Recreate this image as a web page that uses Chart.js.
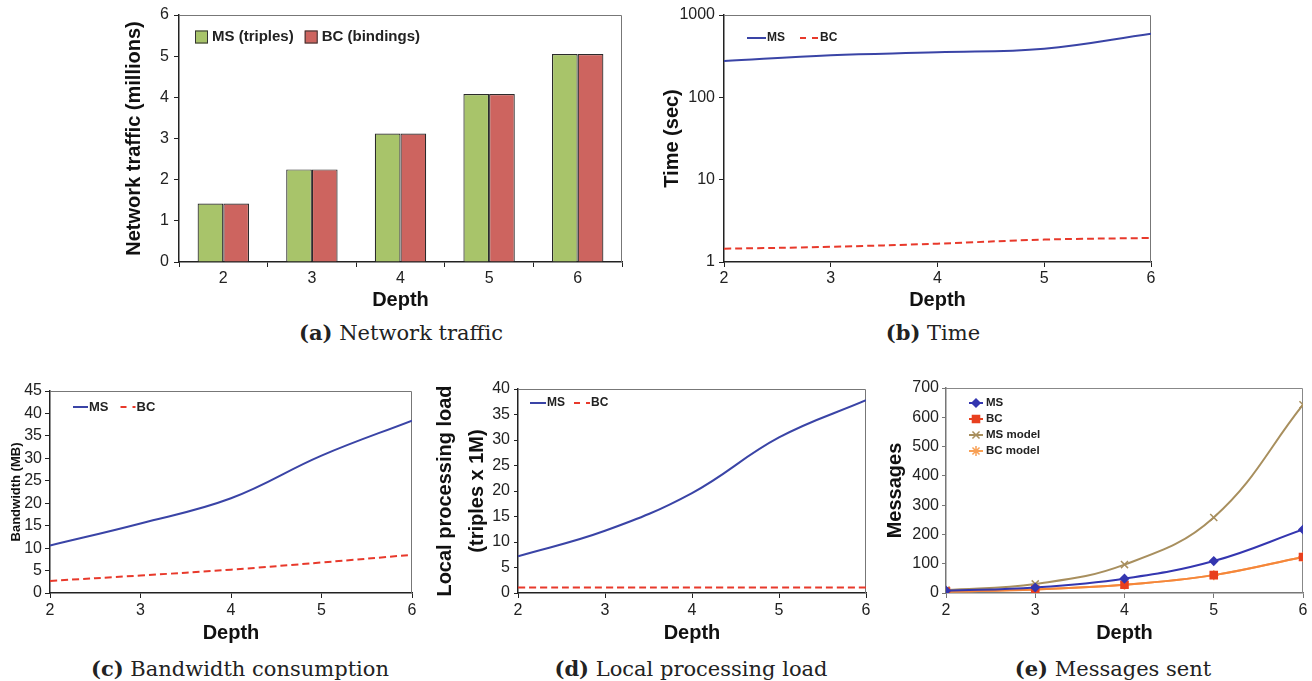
<!DOCTYPE html>
<html>
<head>
<meta charset="utf-8">
<script src="https://cdn.jsdelivr.net/npm/chart.js@4.4.1/dist/chart.umd.min.js"></script>
<style>
  body { margin: 0; width: 1312px; height: 681px; background: #fff; position: relative; overflow: hidden; }
  canvas { position: absolute; }
  .cap { position: absolute; font-family: "DejaVu Serif", serif; font-size: 21px; color: #222; transform: translate(-50%, -50%); white-space: nowrap; }
</style>
</head>
<body>
<canvas id="cA" width="525" height="318" style="left:110px;top:0px"></canvas>
<canvas id="cB" width="520" height="318" style="left:650px;top:0px"></canvas>
<canvas id="cC" width="430" height="275" style="left:0px;top:375px"></canvas>
<canvas id="cD" width="452" height="275" style="left:428px;top:375px"></canvas>
<canvas id="cE" width="432" height="275" style="left:880px;top:375px"></canvas>

<div class="cap" style="left:401px;top:332px"><b>(a)</b> Network traffic</div>
<div class="cap" style="left:933px;top:332px"><b>(b)</b> Time</div>
<div class="cap" style="left:240px;top:668px"><b>(c)</b> Bandwidth consumption</div>
<div class="cap" style="left:691px;top:668px"><b>(d)</b> Local processing load</div>
<div class="cap" style="left:1113px;top:668px"><b>(e)</b> Messages sent</div>

<script>
// data
const depths = [2, 3, 4, 5, 6];
const trafficMS = [1.42, 2.25, 3.12, 4.08, 5.05];
const trafficBC = [1.42, 2.25, 3.12, 4.08, 5.05];
const timeMS = [276, 324, 352, 390, 593];
const timeBC = [1.45, 1.53, 1.67, 1.87, 1.96];
const timeTicks = [1, 10, 100, 1000];
const bwMS = [10.6, 15.5, 21.1, 30.6, 38.4];
const bwBC = [2.7, 3.9, 5.2, 6.8, 8.5];
const loadMS = [7.2, 12.2, 19.6, 30.5, 37.8];
const loadBC = [1.1, 1.1, 1.1, 1.1, 1.1];
const msgMS = [8, 19, 49, 109, 217];
const msgBC = [5, 12, 28, 61, 123];
const msgMSModel = [10, 31, 97, 258, 643];
const msgBCModel = [5, 12, 28, 61, 123];

const BLUE = '#3a44a6', RED = '#e8392b';
const GREEN_BAR = '#a8c46a', RED_BAR = '#cd645f';
const TICK_SIZE = 16;

Chart.defaults.font.family = '"Liberation Sans", Arial, sans-serif';
Chart.defaults.color = '#222';

const pts = (ys) => depths.map((d, i) => ({ x: d, y: ys[i] }));

// top and right edges of the plot box
const frame = {
  id: 'frame',
  beforeDatasetsDraw(chart, args, o) {
    const { ctx, chartArea: a } = chart;
    ctx.save();
    ctx.strokeStyle = o.color || '#777';
    ctx.lineWidth = 1;
    ctx.beginPath();
    ctx.moveTo(a.left, a.top + 0.5);
    ctx.lineTo(a.right - 0.5, a.top + 0.5);
    ctx.lineTo(a.right - 0.5, a.bottom);
    ctx.stroke();
    ctx.restore();
  }
};

// legend drawn inside the plot area, like the Excel originals
const innerLegend = {
  id: 'innerLegend',
  afterDatasetsDraw(chart, args, o) {
    if (!o.items) return;
    const ctx = chart.ctx;
    ctx.save();
    ctx.font = `bold ${o.size}px "Liberation Sans", Arial, sans-serif`;
    ctx.textBaseline = 'middle';
    let x = o.x, y = o.y;
    o.items.forEach(it => {
      if (it.box) {
        ctx.fillStyle = it.color;
        ctx.fillRect(x, y - it.box / 2, it.box, it.box);
        ctx.strokeStyle = '#333';
        ctx.lineWidth = 1;
        ctx.strokeRect(x + 0.5, y - it.box / 2 + 0.5, it.box - 1, it.box - 1);
        x += it.box + 4;
      } else {
        ctx.strokeStyle = it.color;
        ctx.lineWidth = 2;
        ctx.setLineDash(it.dash || []);
        ctx.beginPath();
        ctx.moveTo(x, y);
        ctx.lineTo(x + o.lineLen, y);
        ctx.stroke();
        ctx.setLineDash([]);
        if (it.point) {
          ctx.fillStyle = it.pointColor;
          ctx.strokeStyle = it.pointColor;
          ctx.lineWidth = 1.5;
          Chart.helpers.drawPoint(ctx, { pointStyle: it.point, radius: it.radius, borderWidth: 1.5, rotation: 0 }, x + o.lineLen / 2, y);
        }
        x += o.lineLen + (o.textGap || 1);
      }
      ctx.fillStyle = '#222';
      ctx.fillText(it.label, x, y);
      if (o.vertical) { x = o.x; y += o.step; }
      else x += ctx.measureText(it.label).width + o.gap;
    });
    ctx.restore();
  }
};

Chart.register(frame, innerLegend);

function yAxis(o) {
  const c = o.axisColor || '#222';
  const ax = {
    type: o.type || 'linear',
    min: o.min, max: o.max,
    afterFit: s => { s.width = o.width; },
    border: { color: c, width: 1.5 },
    grid: { drawOnChartArea: false, tickLength: o.tick || 5, color: c },
    ticks: { padding: o.pad || 4, color: '#222', font: { size: TICK_SIZE } },
    title: {
      display: true, text: o.title, color: '#111',
      font: { size: o.titleSize || 20, weight: 'bold', lineHeight: o.lh || 1.2 },
      padding: { top: o.titlePad, bottom: 0 }
    }
  };
  if (o.step) ax.ticks.stepSize = o.step;
  if (o.fixedTicks) {
    ax.afterBuildTicks = s => { s.ticks = o.fixedTicks.map(v => ({ value: v })); };
    ax.ticks.callback = v => String(v);
  }
  return ax;
}

function xAxis(o) {
  const c = o.axisColor || '#222';
  const ax = {
    type: o.type || 'linear',
    afterFit: s => { s.height = o.height; },
    border: { color: c, width: 1.5 },
    grid: { drawOnChartArea: false, tickLength: 5, color: c },
    ticks: { padding: o.pad || 4, color: '#222', font: { size: TICK_SIZE }, maxRotation: 0 },
    title: {
      display: true, text: 'Depth', color: '#111',
      font: { size: 20, weight: 'bold' },
      padding: { top: 0, bottom: o.titlePad }
    }
  };
  if (ax.type === 'linear') { ax.min = 2; ax.max = 6; ax.ticks.stepSize = 1; }
  else ax.grid.offset = true;
  return ax;
}

const base = (pad, legend, frameColor) => ({
  responsive: false,
  animation: false,
  devicePixelRatio: 1,
  events: [],
  layout: { padding: pad },
  plugins: {
    legend: { display: false },
    tooltip: { enabled: false },
    frame: { color: frameColor || '#777' },
    innerLegend: legend
  }
});

// (a) network traffic
const optA = base({ top: 15, right: 13, left: 0, bottom: 0 }, {
  x: 85, y: 37, size: 15, gap: 11,
  items: [
    { label: 'MS (triples)', color: GREEN_BAR, box: 13 },
    { label: 'BC (bindings)', color: RED_BAR, box: 13 }
  ]
});
optA.scales = {
  x: xAxis({ type: 'category', height: 56, titlePad: 6, pad: 2 }),
  y: yAxis({ min: 0, max: 6, step: 1, width: 69, title: 'Network traffic (millions)', titlePad: 12, pad: 5 })
};
new Chart(document.getElementById('cA'), {
  type: 'bar',
  data: {
    labels: depths.map(String),
    datasets: [
      { label: 'MS (triples)', data: trafficMS, backgroundColor: GREEN_BAR, borderColor: '#2b2b2b', borderWidth: 1.2, barPercentage: 1, categoryPercentage: 0.58 },
      { label: 'BC (bindings)', data: trafficBC, backgroundColor: RED_BAR, borderColor: '#2b2b2b', borderWidth: 1.2, barPercentage: 1, categoryPercentage: 0.58 }
    ]
  },
  options: optA
});

const msLine = (ys) => ({ label: 'MS', data: pts(ys), borderColor: BLUE, borderWidth: 2, pointRadius: 0, tension: 0.4, fill: false });
const bcLine = (ys) => ({ label: 'BC', data: pts(ys), borderColor: RED, borderWidth: 2, borderDash: [7, 4], pointRadius: 0, tension: 0.4, fill: false });
const msbcLegend = (x, y, size, lineLen, gap) => ({
  x, y, size, lineLen, gap,
  items: [
    { label: 'MS', color: BLUE },
    { label: 'BC', color: RED, dash: [6, 6] }
  ]
});

// (b) time
const optB = base({ top: 15, right: 19, left: 0, bottom: 0 }, msbcLegend(97, 38, 12, 19, 15));
optB.scales = {
  x: xAxis({ height: 56, titlePad: 6, pad: 2 }),
  y: yAxis({ type: 'logarithmic', min: 1, max: 1000, fixedTicks: timeTicks, width: 74, title: 'Time (sec)', titlePad: 10, pad: 4 })
};
new Chart(document.getElementById('cB'), {
  type: 'line',
  data: { datasets: [msLine(timeMS), bcLine(timeBC)] },
  options: optB
});

// (c) bandwidth
const optC = base({ top: 16, right: 18, left: 0, bottom: 0 }, msbcLegend(73, 32, 13, 15, 12));
optC.scales = {
  x: xAxis({ height: 57, titlePad: 5, pad: 3 }),
  y: yAxis({ min: 0, max: 45, step: 5, width: 50, title: 'Bandwidth (MB)', titleSize: 13, titlePad: 9, pad: 3 })
};
new Chart(document.getElementById('cC'), {
  type: 'line',
  data: { datasets: [msLine(bwMS), bcLine(bwBC)] },
  options: optC
});

// (d) local processing load
const optD = base({ top: 14, right: 14, left: 0, bottom: 0 }, msbcLegend(102, 28, 12, 16, 9));
optD.scales = {
  x: xAxis({ height: 57, titlePad: 5, pad: 3 }),
  y: yAxis({ min: 0, max: 40, step: 5, width: 90, title: ['Local processing load', '(triples x 1M)'], lh: 1.6, titlePad: 1, pad: 4, tick: 4 })
};
new Chart(document.getElementById('cD'), {
  type: 'line',
  data: { datasets: [msLine(loadMS), bcLine(loadBC)] },
  options: optD
});

// (e) messages sent
const msgLabels = ['MS', 'BC', 'MS model', 'BC model'];
const optE = base({ top: 13, right: 9, left: 0, bottom: 0 }, {
  x: 89, y: 28, size: 11.5, lineLen: 14, textGap: 3, vertical: true, step: 16,
  items: [
    { label: msgLabels[0], color: '#3436b0', point: 'rectRot', radius: 4, pointColor: '#3436b0' },
    { label: msgLabels[1], color: '#e8401f', point: 'rect', radius: 5, pointColor: '#e8401f' },
    { label: msgLabels[2], color: '#a88f5e', point: 'crossRot', radius: 5, pointColor: '#a88f5e' },
    { label: msgLabels[3], color: '#f8a055', point: 'star', radius: 5, pointColor: '#f8a055' }
  ]
}, '#888');
optE.scales = {
  x: xAxis({ height: 57, titlePad: 5, pad: 3, axisColor: '#777' }),
  y: yAxis({ min: 0, max: 700, step: 100, width: 66, title: 'Messages', titlePad: 3, pad: 3, tick: 4, axisColor: '#777' })
};
const msgLine = (label, ys, color, style, r, lineColor) => ({
  label, data: pts(ys), borderColor: lineColor || color, borderWidth: 2, tension: 0.4, fill: false,
  pointStyle: style, pointRadius: r, pointBackgroundColor: color, pointBorderColor: color, pointBorderWidth: 1.5
});
new Chart(document.getElementById('cE'), {
  type: 'line',
  data: {
    datasets: [
      msgLine(msgLabels[0], msgMS, '#3436b0', 'rectRot', 4),
      msgLine(msgLabels[1], msgBC, '#e8401f', 'rect', 5, '#f5863a'),
      msgLine(msgLabels[2], msgMSModel, '#a88f5e', 'crossRot', 5),
      msgLine(msgLabels[3], msgBCModel, '#f8a055', 'star', 5)
    ]
  },
  options: optE
});
</script>
</body>
</html>
